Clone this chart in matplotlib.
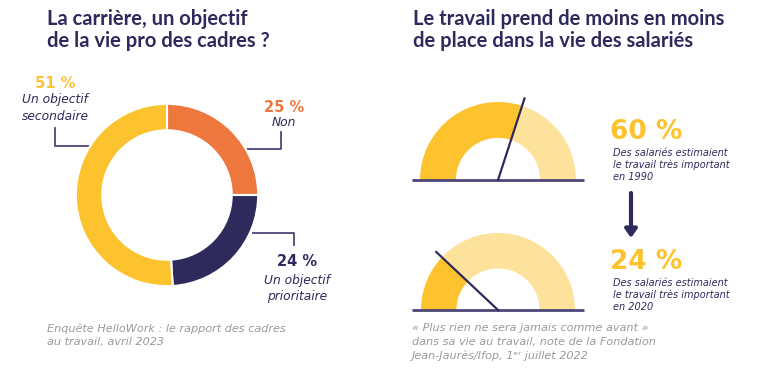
import matplotlib
matplotlib.use("Agg")
import matplotlib.pyplot as plt
from matplotlib.patches import Wedge
import numpy as np

# ---- data ----
donut_labels = ["Non", "Un objectif\nprioritaire", "Un objectif\nsecondaire"]
donut_values = [25, 24, 51]
gauge_values = [60, 24]
gauge_years = ["1990", "2020"]

title_left = "La carrière, un objectif\nde la vie pro des cadres ?"
title_right = "Le travail prend de moins en moins\nde place dans la vie des salariés"
note_left = "Enquête HelloWork : le rapport des cadres\nau travail, avril 2023"
note_right = ("« Plus rien ne sera jamais comme avant »\n"
              "dans sa vie au travail, note de la Fondation\n"
              "Jean-Jaurès/Ifop, 1ᵉʳ juillet 2022")

NAVY = "#2f2a5c"
YELLOW = "#fdc32f"
LIGHT = "#fde29c"
ORANGE = "#ee773d"
GRAY = "#9a9a9a"
LINE = "#4c4778"
donut_colors = [ORANGE, NAVY, YELLOW]

plt.rcParams['font.family'] = ['DejaVu Sans']
TITLE_FONT = ['Lato', 'DejaVu Sans']

W, H = 768, 380
fig = plt.figure(figsize=(W / 100, H / 100), dpi=100)
fig.patch.set_facecolor("white")
ax = fig.add_axes([0, 0, 1, 1])
ax.set_xlim(0, W)
ax.set_ylim(0, H)
ax.axis("off")


def Y(p):
    return H - p


# titles
ax.text(47, Y(9), title_left, fontsize=14.5, fontweight="bold", color=NAVY,
        va="top", ha="left", linespacing=1.15, family=TITLE_FONT)
ax.text(413, Y(9), title_right, fontsize=14.5, fontweight="bold", color=NAVY,
        va="top", ha="left", linespacing=1.15, family=TITLE_FONT)

# ---- donut ----
cx, cy, R = 167, 195, 93
dax = fig.add_axes([(cx - R) / W, 1 - (cy + R) / H, 2 * R / W, 2 * R / H])
dax.pie(donut_values, colors=donut_colors, startangle=90, counterclock=False,
        radius=1, wedgeprops=dict(width=0.29, edgecolor="white", linewidth=1.5))
dax.set_xlim(-1.02, 1.02)
dax.set_ylim(-1.02, 1.02)
dax.set_aspect("equal")
dax.axis("off")


def pct(v):
    return f"{v} %"


# donut labels
ax.text(55, Y(83), pct(donut_values[2]), fontsize=10.5, fontweight="bold",
        color=YELLOW, ha="center", va="center")
ax.text(55, Y(108), donut_labels[2], fontsize=8.8, style="italic", color=NAVY,
        ha="center", va="center", linespacing=1.3)
ax.plot([55, 55, 94], [Y(128), Y(146), Y(146)], color=LINE, lw=1.3)

ax.text(284, Y(107), pct(donut_values[0]), fontsize=10.5, fontweight="bold",
        color=ORANGE, ha="center", va="center")
ax.text(284, Y(123), donut_labels[0], fontsize=8.8, style="italic", color=NAVY,
        ha="center", va="center")
ax.plot([281, 281, 242], [Y(132), Y(149), Y(149)], color=LINE, lw=1.3)

ax.text(297, Y(262), pct(donut_values[1]), fontsize=10.5, fontweight="bold",
        color=NAVY, ha="center", va="center")
ax.text(297, Y(288.5), donut_labels[1], fontsize=8.8, style="italic", color=NAVY,
        ha="center", va="center", linespacing=1.3)
ax.plot([253, 294, 294], [Y(233), Y(233), Y(245)], color=LINE, lw=1.3)

# ---- gauges ----
gx = 498
base_y = [180, 310]
R_out = [78, 77]
for val, by, ro, yr in zip(gauge_values, base_y, R_out, gauge_years):
    ri = ro * 0.54
    ang = 180 - 180 * val / 100
    ax.add_patch(Wedge((gx, Y(by)), ro, ang, 180, width=ro - ri,
                       facecolor=YELLOW, edgecolor="none"))
    ax.add_patch(Wedge((gx, Y(by)), ro, 0, ang, width=ro - ri,
                       facecolor=LIGHT, edgecolor="none"))
    ax.plot([412, 584], [Y(by), Y(by)], color=LINE, lw=2, solid_capstyle="butt")
    L = ro * 1.1
    a = np.deg2rad(ang)
    ax.plot([gx, gx + L * np.cos(a)], [Y(by), Y(by) + L * np.sin(a)],
            color=NAVY, lw=1.6)
    ty = by - 48
    ax.text(610, Y(ty), pct(val), fontsize=19, fontweight="heavy",
            color=YELLOW, ha="left", va="center")
    ax.text(613, Y(ty + 33),
            "Des salariés estimaient\nle travail très important\nen " + yr,
            fontsize=7, style="italic", color=NAVY, ha="left", va="center",
            linespacing=1.22)

# arrow
ax.annotate("", xy=(631, Y(238)), xytext=(631, Y(193)),
            arrowprops=dict(arrowstyle="-|>,head_width=0.35,head_length=0.5",
                            color=NAVY, lw=3, shrinkA=0, shrinkB=0))

# notes
ax.text(47, Y(324), note_left, fontsize=8.1, style="italic", color=GRAY,
        ha="left", va="top", linespacing=1.3)
ax.text(412, Y(323), note_right, fontsize=8.1, style="italic", color=GRAY,
        ha="left", va="top", linespacing=1.45)

fig.savefig("out.png", dpi=100, facecolor="white")
